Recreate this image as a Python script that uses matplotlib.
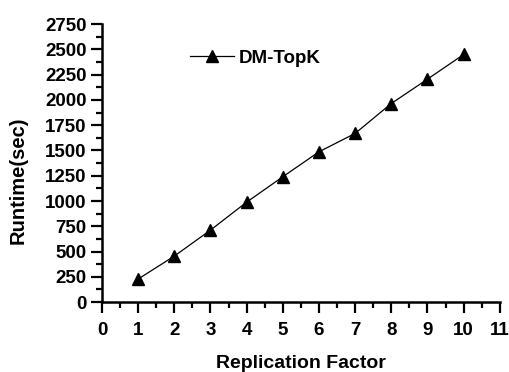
import numpy as np
import matplotlib.pyplot as plt
from matplotlib.ticker import MultipleLocator

replication = [1, 2, 3, 4, 5, 6, 7, 8, 9, 10]
runtime = [228, 455, 712, 989, 1240, 1487, 1669, 1965, 2206, 2450]

plt.rcParams['font.family'] = ['Liberation Sans', 'DejaVu Sans']
plt.rcParams['font.weight'] = 'bold'

fig = plt.figure(figsize=(5.1, 3.72), dpi=100)
ax = fig.add_axes([0.2, 0.188, 0.78, 0.747])

ax.plot(replication, runtime, color='black', linewidth=0.9,
        marker='^', markersize=9, label='DM-TopK')

ax.set_xlim(0, 11)
ax.set_ylim(0, 2750)
ax.xaxis.set_major_locator(MultipleLocator(1))
ax.xaxis.set_minor_locator(MultipleLocator(0.5))
ax.yaxis.set_major_locator(MultipleLocator(250))
ax.yaxis.set_minor_locator(MultipleLocator(125))

for side in ['top', 'right']:
    ax.spines[side].set_visible(False)
for side in ['left', 'bottom']:
    ax.spines[side].set_linewidth(1.8)

ax.tick_params(which='major', length=8, width=1.6, labelsize=13.5, pad=3)
ax.tick_params(which='minor', length=4.5, width=1.6)
ax.tick_params(axis='x', pad=6)

ax.set_xlabel('Replication Factor', fontsize=14, fontweight='bold', labelpad=12)
ax.set_ylabel('Runtime(sec)', fontsize=14.5, fontweight='bold')
ax.yaxis.set_label_coords(-0.186, 0.44)

ax.legend(loc='upper left', bbox_to_anchor=(0.18, 0.97), frameon=False,
          fontsize=13.5, handlelength=2.3, handletextpad=0.3)

fig.savefig('out.png', dpi=100)
